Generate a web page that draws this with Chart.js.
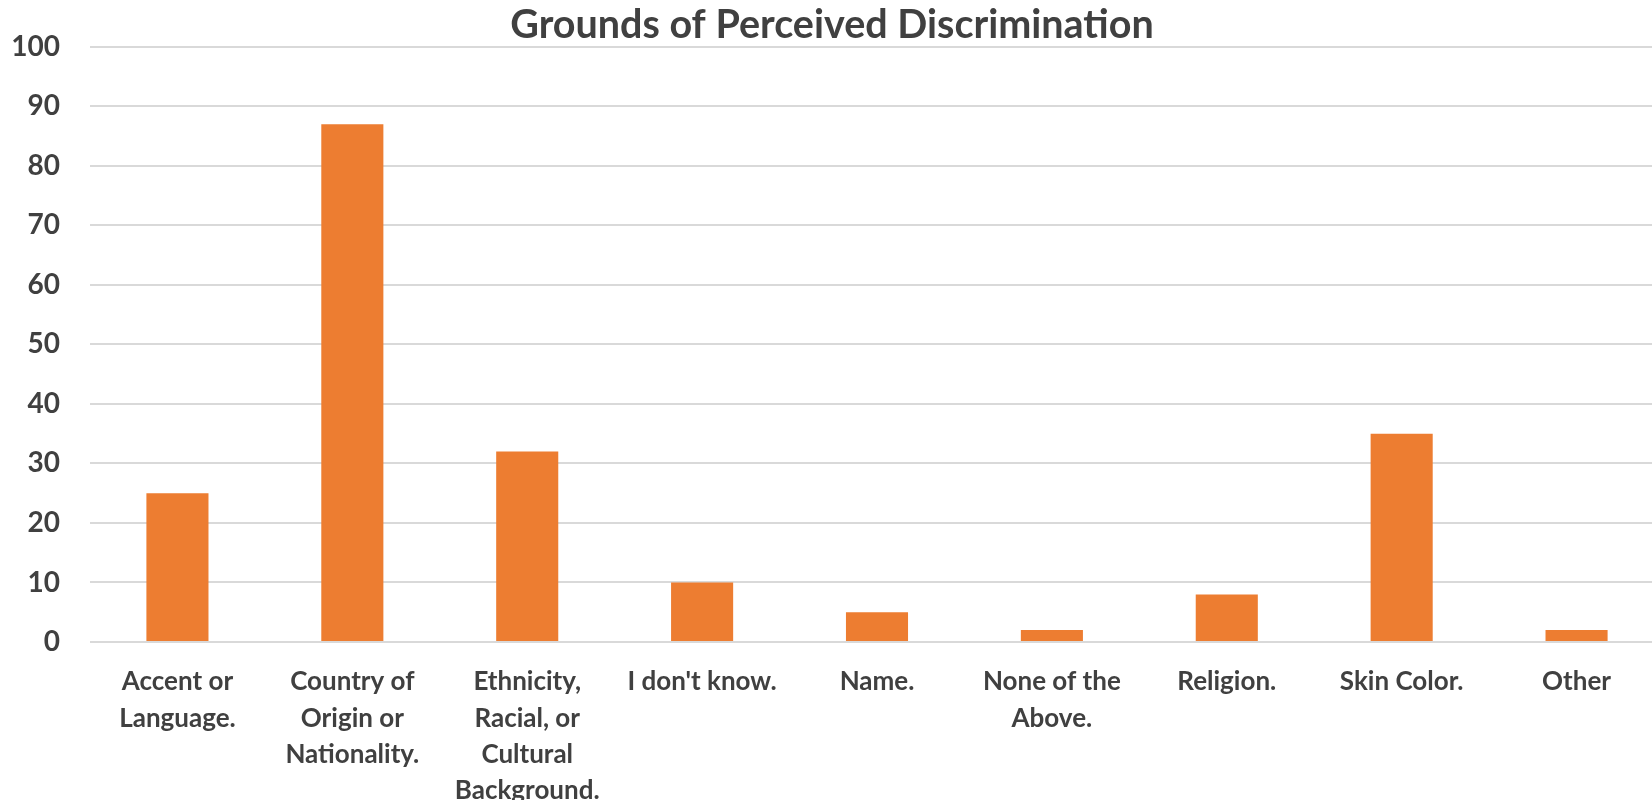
<!DOCTYPE html>
<html>
<head>
<meta charset="utf-8">
<script src="https://cdn.jsdelivr.net/npm/chart.js@4/dist/chart.umd.min.js"></script>
<style>
  html, body { margin: 0; padding: 0; background: #fff; overflow: hidden; }
  #wrap { width: 1652px; height: 800px; overflow: hidden; position: relative; }
  #inner { width: 1664px; height: 800px; position: relative; }
</style>
</head>
<body>
<div id="wrap"><div id="inner"><canvas id="chart"></canvas></div></div>
<script>
// categories, one array of lines per label
var categories = [
    ['Accent or', 'Language.'],
    ['Country of', 'Origin or', 'Nationality.'],
    ['Ethnicity,', 'Racial, or', 'Cultural', 'Background.'],
    ["I don't know."],
    ['Name.'],
    ['None of the', 'Above.'],
    ['Religion.'],
    ['Skin Color.'],
    ['Other']
];
var counts = [25, 87, 32, 10, 5, 2, 8, 35, 2];
var chartTitle = 'Grounds of Perceived Discrimination';
var yMin = 0;
var yMax = 100;
var yStep = 10;

var textColor = '#404040';
var fontFamily = 'Lato, "Open Sans", sans-serif';

var ctx = document.getElementById('chart');
var chart = new Chart(ctx, {
    type: 'bar',
    data: {
        labels: categories,
        datasets: [{
            label: chartTitle,
            data: counts,
            backgroundColor: '#ED7D31',
            borderWidth: 0,
            barPercentage: 0.355,
            categoryPercentage: 1
        }]
    },
    options: {
        responsive: true,
        maintainAspectRatio: false,
        animation: false,
        layout: { padding: 0 },
        plugins: {
            legend: { display: false },
            tooltip: { enabled: false },
            title: {
                display: true,
                text: chartTitle,
                color: textColor,
                font: { family: fontFamily, size: 39.5, weight: 'bold', lineHeight: 1.1 },
                padding: { top: 1, bottom: 0 }
            }
        },
        scales: {
            x: {
                grid: { display: false, drawTicks: false },
                border: { display: false },
                ticks: {
                    color: textColor,
                    font: { family: fontFamily, size: 26, weight: 'bold', lineHeight: 1.39 },
                    maxRotation: 0,
                    autoSkip: false,
                    padding: 22
                },
                afterFit: function(scale) { scale.height = 158; }
            },
            y: {
                min: yMin,
                max: yMax,
                grid: { color: '#d9d9d9', lineWidth: 2, drawTicks: false },
                border: { display: false },
                ticks: {
                    stepSize: yStep,
                    color: textColor,
                    font: { family: fontFamily, size: 28, weight: 'bold' },
                    padding: 30
                },
                afterFit: function(scale) { scale.width = 90; }
            }
        }
    }
});
</script>
</body>
</html>
